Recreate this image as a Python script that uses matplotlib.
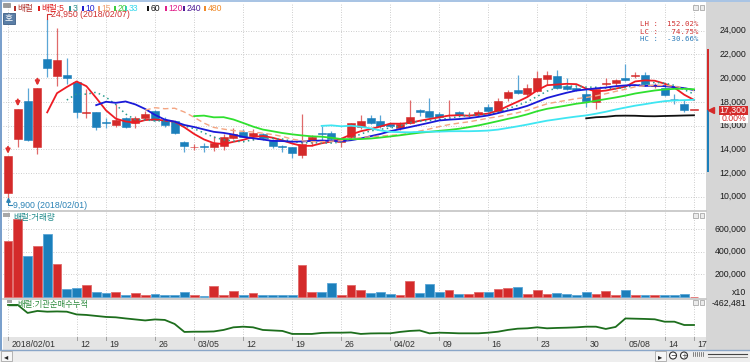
import numpy as np
import pandas as pd
import matplotlib
matplotlib.use("Agg")
import matplotlib.pyplot as plt
from matplotlib.patches import Rectangle

plt.rcParams['font.family'] = ['Liberation Sans', 'Noto Sans CJK KR', 'DejaVu Sans']

# ---------------- data ----------------
dates = ['2018/02/01', '2018/02/02', '2018/02/05', '2018/02/06', '2018/02/07', '2018/02/08', '2018/02/09',
         '2018/02/12', '2018/02/13', '2018/02/14', '2018/02/19', '2018/02/20', '2018/02/21', '2018/02/22',
         '2018/02/23', '2018/02/26', '2018/02/27', '2018/02/28', '2018/03/02', '2018/03/05', '2018/03/06',
         '2018/03/07', '2018/03/08', '2018/03/09', '2018/03/12', '2018/03/13', '2018/03/14', '2018/03/15',
         '2018/03/16', '2018/03/19', '2018/03/20', '2018/03/21', '2018/03/22', '2018/03/23', '2018/03/26',
         '2018/03/27', '2018/03/28', '2018/03/29', '2018/03/30', '2018/04/02', '2018/04/03', '2018/04/04',
         '2018/04/05', '2018/04/06', '2018/04/09', '2018/04/10', '2018/04/11', '2018/04/12', '2018/04/13',
         '2018/04/16', '2018/04/17', '2018/04/18', '2018/04/19', '2018/04/20', '2018/04/23', '2018/04/24',
         '2018/04/25', '2018/04/26', '2018/04/27', '2018/04/30', '2018/05/02', '2018/05/03', '2018/05/04',
         '2018/05/08', '2018/05/09', '2018/05/10', '2018/05/11', '2018/05/14', '2018/05/15', '2018/05/16',
         '2018/05/17']

opens = [10300, 14900, 18100, 14150, 21600, 20200, 20300, 19700, 17050, 17100,
         16300, 16050, 16650, 16200, 16650, 17200, 16500, 16400, 14650, 14150,
         14250, 14200, 14300, 14970, 15450, 15100, 15300, 14750, 14250, 14150,
         13550, 14800, 15350, 15350, 14600, 15050, 15900, 16650, 16400, 16150,
         15750, 16200, 17300, 17250, 16950, 16850, 17100, 16850, 16950, 17600,
         17250, 18300, 19000, 18650, 18900, 19900, 20200, 19350, 19150, 18700,
         17950, 19500, 19550, 20000, 20150, 20250, 19350, 19200, 18250, 17800,
         17300]
highs = [13400, 17400, 19200, 19150, 24950, 24200, 21700, 19700, 19100, 17100,
         16650, 17800, 16700, 16800, 17200, 17300, 16700, 16500, 14700, 14400,
         14550, 15150, 15300, 15800, 15700, 15700, 15400, 14900, 14350, 14200,
         17000, 15200, 16000, 15500, 14950, 16250, 16850, 16850, 16850, 16200,
         16300, 18150, 17400, 18350, 17100, 18150, 17200, 17150, 17300, 17800,
         18300, 19000, 20250, 19500, 20600, 20600, 20650, 20050, 19300, 19050,
         19100, 20000, 19900, 21150, 20500, 20550, 19550, 19550, 18650, 18150,
         17300]
lows = [9900, 14200, 14700, 13600, 20100, 19350, 19500, 16650, 16600, 15650,
        15750, 15900, 15750, 15800, 16500, 16400, 15900, 15300, 13800, 13900,
        13800, 13850, 13900, 14900, 15000, 14800, 14800, 14100, 13800, 13300,
        13300, 14300, 14800, 14700, 14200, 14900, 15700, 16100, 15800, 15900,
        15600, 16100, 16800, 16700, 16500, 16700, 16800, 16700, 16800, 17100,
        17100, 18100, 18650, 18500, 18800, 19400, 19100, 19000, 18900, 17550,
        17400, 19300, 19350, 19750, 20000, 19300, 19200, 18500, 17850, 17100,
        17300]
closes = [13400, 17400, 14750, 19150, 20850, 21500, 20000, 17100, 17150, 15900,
          16250, 16500, 15900, 16650, 17000, 16500, 16050, 15400, 14300, 14170,
          14200, 14500, 15000, 15250, 15000, 15400, 14950, 14250, 14150, 13650,
          14400, 15000, 15300, 14900, 14800, 16200, 16400, 16200, 16000, 16000,
          16150, 16750, 17100, 16750, 16700, 16900, 16900, 16900, 17150, 17200,
          18100, 18850, 18750, 19150, 20000, 20250, 19150, 19050, 19000, 18100,
          19050, 19550, 19850, 19850, 20300, 19500, 19400, 18600, 18200, 17300,
          17300]
volumes = [496000, 687000, 357000, 450000, 554000, 287000, 67000, 76000, 104000, 41000,
           32000, 43000, 17000, 32000, 17000, 23000, 17000, 17000, 43000, 9000,
           5000, 90000, 17000, 46000, 17000, 32000, 17000, 17000, 9000, 17000,
           281000, 41000, 41000, 119000, 17000, 101000, 55000, 32000, 41000, 20000,
           17000, 142000, 32000, 107000, 38000, 61000, 23000, 23000, 38000, 38000,
           70000, 78000, 81000, 23000, 55000, 23000, 32000, 20000, 17000, 38000,
           23000, 46000, 17000, 61000, 17000, 9000, 9000, 17000, 9000, 23000, 0]
inst_cum = [-302000, -302000, -366000, -350000, -356000, -354000, -356000, -378000, -382000, -390000,
            -398000, -401000, -410000, -418000, -426000, -418000, -422000, -454000, -518000, -516000,
            -516000, -514000, -502000, -481000, -476000, -481000, -502000, -506000, -510000, -534000,
            -534000, -534000, -526000, -524000, -524000, -522000, -534000, -530000, -529000, -529000,
            -518000, -510000, -506000, -529000, -524000, -526000, -529000, -529000, -529000, -524000,
            -516000, -502000, -492000, -489000, -481000, -489000, -486000, -484000, -481000, -476000,
            -476000, -494000, -478000, -410000, -412000, -414000, -417000, -436000, -436000, -462481, -462481]

limit_up_idx = [0, 1, 3]
ma_periods = [5, 7, 10, 15, 20, 33, 60]
legend_labels = ['배럴', '배럴:5', '3', '10', '15', '20', '33', '60', '120', '240', '480']
price_ticks = [10000, 12000, 14000, 16000, 18000, 20000, 22000, 24000]
vol_ticks = [200000, 400000, 600000]
xtick_idx = [0, 7, 10, 15, 19, 24, 29, 34, 39, 44, 49, 54, 59, 63, 67, 70]
xtick_labels = ['2018/02/01', '12', '19', '26', '03/05', '12', '19', '26', '04/02', '09',
                '16', '23', '30', '05/08', '14', '17']
stats_text = ['LH :  152.02%', 'LC :   74.75%', 'HC :  -30.66%']
last_change = '0.00%'
inst_last_label = '-462,481'

# ---------------- styles ----------------
W, H = 750, 362
RED = '#d42a2a'
BLUE = '#1b7fbb'
RED_W = '#e06a6a'
BLUE_W = '#5aa6d6'
GRID = '#bdbdbd'
PANEL = '#d6d6d6'
ma_style = {5: ('#ee1c24', '-', 1.3), 7: ('#2a9d8f', (0, (1, 2.2)), 1.1), 10: ('#1a1ad8', '-', 1.3),
            15: ('#f4a582', (0, (4, 2.5)), 1.0), 20: ('#2fe02f', '-', 1.3), 33: ('#3fe6f2', '-', 1.3),
            60: ('#111111', '-', 1.3)}
legend_colors = ['#b0302a', '#e01e1e', '#2a9090', '#2020d0', '#f0a070', '#3ccc3c', '#36d8ec',
                 '#111111', '#e0208a', '#4e1a96', '#f08a2a']
legend_x = [14, 38, 69, 82, 98, 114, 125, 147, 165, 183, 204]

fig = plt.figure(figsize=(W / 100, H / 100), dpi=100)
fig.patch.set_facecolor('white')


def pxax(x0, y0, x1, y1, z=1):
    return fig.add_axes([x0 / W, 1 - y1 / H, (x1 - x0) / W, (y1 - y0) / H], zorder=z)


# background decoration layer
bg = pxax(0, 0, W, H, z=0)
bg.set_xlim(0, W); bg.set_ylim(H, 0); bg.axis('off')
bg.add_patch(Rectangle((706, 0), 44, 350, fc=PANEL, ec='none'))
bg.add_patch(Rectangle((3, 337), 703, 12.5, fc='#e4e4e4', ec='none'))
bg.add_patch(Rectangle((0, 350), W, 12, fc='#eeeeee', ec='none'))
bg.plot([0, W], [349.8, 349.8], color='#8aa6c8', lw=1.0)
bg.add_patch(Rectangle((0, 0), W, 1.6, fc='#a9c4e4', ec='none'))
bg.add_patch(Rectangle((0, 0), 2.0, 350, fc='#7aa0cc', ec='none'))

n = len(closes)
x = np.arange(n)
xl = ((3 - 8) / 9.8, (706 - 8) / 9.8)
o = np.array(opens); h = np.array(highs); l = np.array(lows); c = np.array(closes)
up = c >= o
cols = np.where(up, RED, BLUE)
wcols = np.where(up, RED_W, BLUE_W)

PLO, PHI = 8870, 26340
PPX = (PHI - PLO) / 207.0

# ---------------- price panel ----------------
ax = pxax(3, 3, 706, 210, z=2)
ax.set_xlim(*xl); ax.set_ylim(PLO, PHI)
ax.set_xticks(xtick_idx); ax.set_yticks(price_ticks)
ax.tick_params(length=0, labelbottom=False, labelleft=False)
ax.grid(True, color=GRID, lw=0.6, ls=(0, (1, 2)))
for s in ax.spines.values():
    s.set_visible(False)

series = pd.Series(closes, dtype=float)
for p in ma_periods:
    col, ls, lw = ma_style[p]
    ax.plot(x, series.rolling(p).mean(), color=col, ls=ls, lw=lw, zorder=4)

ax.vlines(x, l, h, colors=wcols, lw=0.9, zorder=2)
body = np.maximum(np.abs(c - o), PPX * 0.9)
ax.bar(x, body, bottom=np.minimum(o, c), width=0.8, color=cols, edgecolor=cols, lw=0.4, zorder=3)

for i in limit_up_idx:
    ax.annotate('', xy=(i, h[i] + 2.5 * PPX), xytext=(i, h[i] + 9.5 * PPX),
                arrowprops=dict(arrowstyle='-|>', color='#e03030', lw=1.4, mutation_scale=6,
                                shrinkA=0, shrinkB=0), zorder=5)

ih = int(np.argmax(h)); il = int(np.argmin(l))
ax.plot([ih, ih, ih + 0.35], [h[ih], h[ih] + 5 * PPX, h[ih] + 5 * PPX], color='#d03030', lw=0.8, zorder=5)
ax.text(ih + 0.35, h[ih] + 5 * PPX, f"{highs[ih]:,} ({dates[ih]})", color='#d03030', fontsize=6.3,
        va='center', ha='left', zorder=6)
ax.plot([il, il, il + 0.45], [l[il], l[il] - 7.5 * PPX, l[il] - 7.5 * PPX], color='#2a82b5', lw=0.8, zorder=5)
ax.plot([il], [l[il] - 2.2 * PPX], marker='^', ms=2.5, color='#2a82b5', zorder=5)
ax.text(il + 0.5, l[il] - 7.5 * PPX, f"{lows[il]:,} ({dates[il]})", color='#2a82b5', fontsize=6.3,
        va='center', ha='left', zorder=6)

for k, (t, yy) in enumerate(zip(stats_text, [24.5, 31.5, 39])):
    ax.text(692, 0, '', transform=ax.transAxes)
tx = pxax(600, 3, 706, 60, z=6)
tx.set_xlim(600, 706); tx.set_ylim(60, 3); tx.axis('off')
for t, yy, colr in zip(stats_text, [24.5, 31.5, 39], ['#d03030', '#d03030', '#2a7ab8']):
    tx.text(698, yy, t, color=colr, fontsize=5.3, family='DejaVu Sans Mono', ha='right', va='center')

# ---------------- volume panel ----------------
axv = pxax(3, 211, 706, 298, z=2)
axv.set_xlim(*xl); axv.set_ylim(-13300, 760000)
axv.set_xticks(xtick_idx); axv.set_yticks(vol_ticks)
axv.tick_params(length=0, labelbottom=False, labelleft=False)
axv.grid(True, color=GRID, lw=0.6, ls=(0, (1, 2)))
for s in axv.spines.values():
    s.set_visible(False)
axv.bar(x, volumes, width=0.88, color=cols, edgecolor=wcols, lw=0.6, zorder=3)

# ---------------- institution cumulative panel ----------------
axi = pxax(3, 299, 706, 337, z=2)
axi.set_xlim(*xl); axi.set_ylim(-558481, -254481)
axi.set_xticks(xtick_idx); axi.set_yticks([])
axi.tick_params(length=0, labelbottom=False, labelleft=False)
axi.grid(True, axis='x', color=GRID, lw=0.6, ls=(0, (1, 2)))
for s in axi.spines.values():
    s.set_visible(False)
axi.plot(x, inst_cum, color='#1d6e1d', lw=1.3, zorder=3)

# ---------------- x label strip ----------------
axx = pxax(3, 337, 706, 349.5, z=2)
axx.set_xlim(*xl); axx.set_ylim(0, 1)
axx.axis('off')
for i, t in zip(xtick_idx, xtick_labels):
    axx.plot([i, i], [0.75, 1.0], color='#a0a0a0', lw=0.7)
    axx.text(i + 0.36, 0.42, t, fontsize=6.3, color='#333333', ha='left', va='center')

# ---------------- right axis panel ----------------
rp = pxax(706, 3, 750, 210, z=3)
rp.set_xlim(706, 750); rp.set_ylim(PLO, PHI); rp.axis('off')
for v in price_ticks:
    rp.text(746, v, f"{v:,}", fontsize=6.3, color='#1a1a1a', ha='right', va='center')
last = closes[-1]
rp.add_patch(Rectangle((706.5, last), 2.2, last * 0.3, fc=RED, ec='none'))
rp.add_patch(Rectangle((706.5, last * 0.7), 2.2, last * 0.3, fc=BLUE, ec='none'))
rp.plot([711], [last], marker='<', ms=4, color=RED)
rp.add_patch(Rectangle((719, last - 4.5 * PPX), 29, 9 * PPX, fc=RED, ec='none', zorder=4))
rp.text(746, last, f"{last:,}", fontsize=6.3, color='white', ha='right', va='center', zorder=5)
rp.add_patch(Rectangle((720, last - 13 * PPX), 28, 8.5 * PPX, fc='white', ec='none', zorder=4))
rp.text(746, last - 8.8 * PPX, last_change, fontsize=6.3, color=RED, ha='right', va='center', zorder=5)

rv = pxax(706, 211, 750, 298, z=3)
rv.set_xlim(706, 750); rv.set_ylim(-13300, 760000); rv.axis('off')
for v in vol_ticks + [600000]:
    pass
for v in vol_ticks:
    rv.text(746, v, f"{v:,}", fontsize=6.3, color='#1a1a1a', ha='right', va='center')
rv.text(746, 40000, 'x10', fontsize=6.3, color='#1a1a1a', ha='right', va='center')

ri = pxax(706, 299, 750, 337, z=3)
ri.set_xlim(706, 750); ri.set_ylim(337, 299); ri.axis('off')
ri.text(746, 303.5, inst_last_label, fontsize=6.3, color='#1a1a1a', ha='right', va='center')

# ---------------- overlay decorations ----------------
ov = pxax(0, 0, W, H, z=10)
ov.set_xlim(0, W); ov.set_ylim(H, 0); ov.axis('off')
# panel separators
ov.plot([3, 706], [210.5, 210.5], color='#c4c4c4', lw=1.2)
ov.plot([3, 706], [298.5, 298.5], color='#c4c4c4', lw=1.2)
# window buttons
for yb in [5, 213, 300]:
    for xb in [693, 699.5]:
        ov.add_patch(Rectangle((xb, yb), 4.5, 4.5, fc='#ececec', ec='#9a9a9a', lw=0.5))
# legend
ov.add_patch(Rectangle((3, 2.5), 7, 4.5, fc='#9a9a9a', ec='#7a7a7a', lw=0.4))
for lab, colr, lx in zip(legend_labels, legend_colors, legend_x):
    ov.add_patch(Rectangle((lx, 5.5), 2, 5, fc=colr, ec='none'))
    ov.text(lx + 3.5, 8.2, lab, color=colr, fontsize=6.2, ha='left', va='center')
# 호 button
ov.add_patch(Rectangle((2.5, 12.5), 12, 11, fc='#5a7ea6', ec='#3d5f86', lw=0.6))
ov.text(8.5, 18, '호', color='white', fontsize=6.3, ha='center', va='center', family=['Noto Sans CJK KR'])
# panel titles
ov.add_patch(Rectangle((3, 212.5), 7, 4, fc='#a8a8a8', ec='none'))
ov.text(13, 217.5, '배럴:거래량', color='#1f8a8a', fontsize=6.2, ha='left', va='center')
ov.add_patch(Rectangle((7, 299.5), 4.5, 3, fc='#a8a8a8', ec='none'))
ov.plot([9, 16], [305, 305], color='#1d6e1d', lw=1.0)
ov.text(17, 304.5, '배럴:기관순매수누적', color='#2e8b3e', fontsize=6.0, ha='left', va='center')
# scrollbar
ov.add_patch(Rectangle((1, 351), 11, 10, fc='#f6f6f6', ec='#9a9a9a', lw=0.5))
ov.text(6.5, 356.3, '◂', fontsize=6, ha='center', va='center', color='#222222', family=['DejaVu Sans'])
ov.add_patch(Rectangle((655, 351), 11, 10, fc='#f6f6f6', ec='#9a9a9a', lw=0.5))
ov.text(660.5, 356.3, '▸', fontsize=6, ha='center', va='center', color='#222222', family=['DejaVu Sans'])
for cx, sym in [(673, '−'), (684, '+')]:
    ov.add_patch(plt.Circle((cx, 355.5), 3.5, fc='white', ec='#333333', lw=0.8))
    ov.text(cx, 355.5, sym, fontsize=5, ha='center', va='center', color='#333333', family=['DejaVu Sans'])
for k in range(6):
    ov.plot([693 + 2 * k, 693 + 2 * k], [352, 356], color='#555555', lw=0.5)
ov.plot([708, 747], [354, 354], color='#444444', lw=0.8)
ov.plot([708, 747], [357, 357], color='#888888', lw=0.6)

fig.savefig('out.png', dpi=100, facecolor='white')
